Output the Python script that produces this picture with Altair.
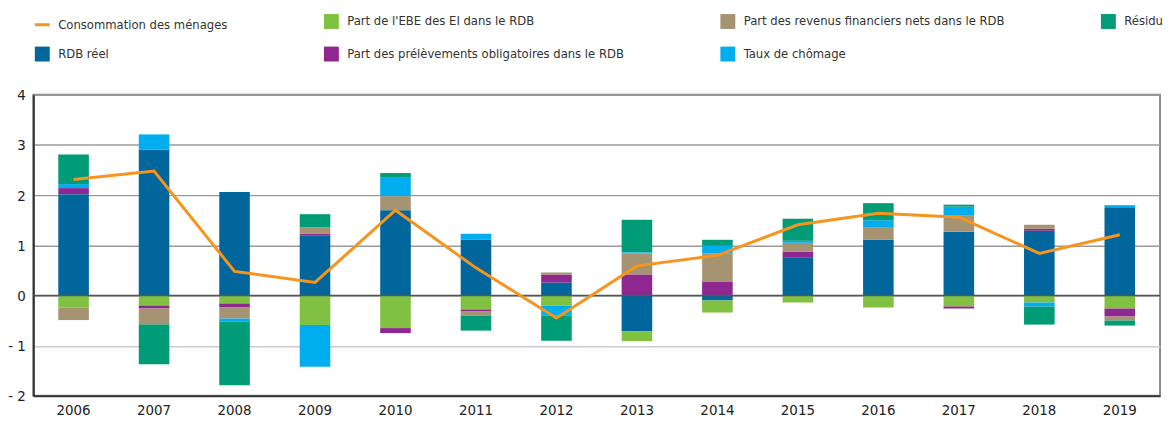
import altair as alt
import pandas as pd

FONT = "DejaVu Sans Condensed, Liberation Sans Narrow, DejaVu Sans, sans-serif"

years = [str(y) for y in range(2006, 2020)]

# contributions (points)
rdb = [2.02, 2.91, 2.06, 1.19, 1.70, 1.11, 0.26, -0.71, -0.10, 0.76, 1.11, 1.27, 1.29, 1.76]
ebe = [-0.24, -0.20, -0.16, -0.59, -0.65, -0.28, -0.20, -0.20, -0.24, -0.14, -0.24, -0.22, -0.14, -0.26]
prel = [0.12, -0.06, -0.08, 0.04, -0.10, -0.04, 0.16, 0.42, 0.28, 0.11, 0.00, -0.04, 0.04, -0.16]
rev = [-0.25, -0.32, -0.22, 0.13, 0.28, -0.08, 0.04, 0.42, 0.56, 0.18, 0.24, 0.32, 0.08, -0.08]
chom = [0.08, 0.30, -0.06, -0.83, 0.38, 0.12, -0.20, 0.02, 0.15, 0.04, 0.15, 0.18, -0.08, 0.04]
res = [0.59, -0.79, -1.27, 0.26, 0.08, -0.30, -0.50, 0.65, 0.12, 0.44, 0.34, 0.04, -0.36, -0.10]
conso = [2.31, 2.48, 0.48, 0.26, 1.70, 0.55, -0.45, 0.59, 0.80, 1.41, 1.64, 1.56, 0.84, 1.21]

N_CONSO = "Consommation des ménages"
N_RDB = "RDB réel"
N_EBE = "Part de l'EBE des EI dans le RDB"
N_PREL = "Part des prélèvements obligatoires dans le RDB"
N_REV = "Part des revenus financiers nets dans le RDB"
N_CHOM = "Taux de chômage"
N_RES = "Résidu"

C_ORANGE = "#F7941D"
C_BLUE = "#00669B"
C_GREEN = "#80C141"
C_PURPLE = "#8E2790"
C_TAN = "#A59372"
C_CYAN = "#00AEEF"
C_TEAL = "#009B77"

stack_series = [N_RDB, N_EBE, N_PREL, N_REV, N_CHOM, N_RES]
stack_values = [rdb, ebe, prel, rev, chom, res]

rows = []
for k, (name, vals) in enumerate(zip(stack_series, stack_values)):
    for yr, v in zip(years, vals):
        rows.append({"year": yr, "series": name, "value": v, "idx": k})
bars_df = pd.DataFrame(rows)
line_df = pd.DataFrame({"year": years, "value": conso})
zero_df = pd.DataFrame({"z": [0]})

# legend is filled column by column (2 rows)
legend_domain = [N_CONSO, N_RDB, N_EBE, N_PREL, N_REV, N_CHOM, N_RES]
legend_fill = [C_ORANGE, C_BLUE, C_GREEN, C_PURPLE, C_TAN, C_CYAN, C_TEAL]
legend_shape = ["stroke"] + ["square"] * 6
legend_stroke = [C_ORANGE] + ["transparent"] * 6

def make_legend():
    return alt.Legend(
        title=None, orient="none", legendX=0, legendY=-83, columns=4,
        columnPadding=90, rowPadding=5, gridAlign="each", symbolSize=225,
        symbolStrokeWidth=3, labelFont=FONT, labelFontSize=13, labelColor="#333",
        labelOffset=7, symbolOpacity=1, labelLimit=0,
    )

x_enc = alt.X(
    "year:O", title=None,
    scale=alt.Scale(paddingInner=0.62, paddingOuter=0.31),
    axis=alt.Axis(labelAngle=0, ticks=False, labelFontSize=15, labelPadding=7,
                  domainColor="#333", domainWidth=2, labelFont=FONT, labelColor="#222",
                  grid=False),
)
y_scale = alt.Scale(domain=[-2, 4], nice=False)
y_axis = alt.Axis(
    values=[-2, -1, 0, 1, 2, 3, 4], ticks=False, labelFontSize=15, labelPadding=8,
    labelFont=FONT, labelColor="#222", domainColor="#333", domainWidth=2,
    labelExpr="datum.value < 0 ? '- ' + abs(datum.value) : '' + datum.value",
    grid=True,
    gridColor=alt.condition("datum.value == -1", alt.value("#cccccc"), alt.value("#9a9a9a")),
    gridWidth=1.5,
)

fill_scale = alt.Scale(domain=legend_domain, range=legend_fill)

bars = alt.Chart(bars_df).mark_bar().encode(
    x=x_enc,
    y=alt.Y("value:Q", stack="zero", scale=y_scale, axis=y_axis, title=None),
    fill=alt.Fill("series:N", scale=fill_scale, legend=make_legend()),
    order=alt.Order("idx:Q"),
)

legend_pts = alt.Chart(bars_df).transform_filter("datum.idx < 0").mark_point(
    filled=True, opacity=1
).encode(
    x=x_enc,
    y=alt.Y("value:Q", scale=y_scale, title=None),
    fill=alt.Fill("series:N", scale=fill_scale, legend=make_legend()),
    shape=alt.Shape("series:N", scale=alt.Scale(domain=legend_domain, range=legend_shape),
                    legend=make_legend()),
    stroke=alt.Stroke("series:N", scale=alt.Scale(domain=legend_domain, range=legend_stroke),
                      legend=make_legend()),
)

zero_rule = alt.Chart(zero_df).mark_rule(color="#555555", strokeWidth=1.5).encode(
    y=alt.Y("z:Q", scale=y_scale, title=None)
)

line = alt.Chart(line_df).mark_line(color=C_ORANGE, strokeWidth=3).encode(
    x=x_enc,
    y=alt.Y("value:Q", scale=y_scale, title=None),
)

chart = alt.layer(bars, legend_pts, zero_rule, line).properties(
    width=1134, height=303,
    autosize=alt.AutoSizeParams(type="none"),
    padding={"left": 25.5, "top": 86, "right": 6, "bottom": 26},
).configure_view(
    stroke="#8a8a8a", strokeWidth=2
)

chart.save("out.html", embed_options={"renderer": "svg", "actions": False})
